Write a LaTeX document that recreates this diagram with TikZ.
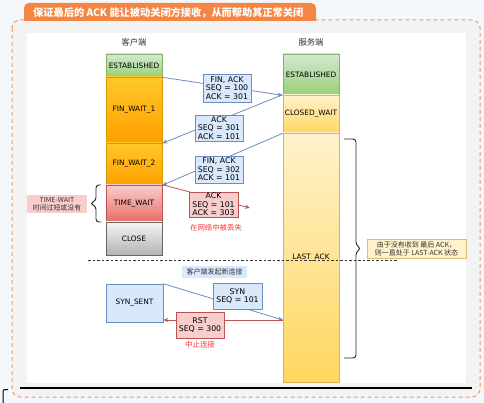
\documentclass[tikz,border=0pt]{standalone}
\usepackage{fontspec}
\setmainfont{DejaVu Sans}
\newfontfamily\cjk{Noto Sans CJK SC}
\usetikzlibrary{arrows.meta}
\definecolor{pagebg}{RGB}{244,247,252}
\definecolor{panelbg}{RGB}{243,243,243}
\definecolor{tabor}{RGB}{245,133,66}
\definecolor{dashor}{RGB}{247,150,95}
\definecolor{grnA}{RGB}{213,232,212}
\definecolor{grnB}{RGB}{151,208,119}
\definecolor{grnL}{RGB}{130,179,102}
\definecolor{orA}{RGB}{255,200,40}
\definecolor{orB}{RGB}{255,160,0}
\definecolor{orL}{RGB}{215,155,0}
\definecolor{yeA}{RGB}{255,242,204}
\definecolor{yeB}{RGB}{255,214,95}
\definecolor{yeL}{RGB}{214,182,86}
\definecolor{rdA}{RGB}{248,206,204}
\definecolor{rdB}{RGB}{234,107,102}
\definecolor{rdL}{RGB}{184,84,80}
\definecolor{grA}{RGB}{245,245,245}
\definecolor{grB}{RGB}{179,179,179}
\definecolor{grL}{RGB}{102,102,102}
\definecolor{blA}{RGB}{218,232,252}
\definecolor{blL}{RGB}{108,142,191}
\definecolor{lostred}{RGB}{255,51,51}
\definecolor{notebg}{RGB}{255,242,204}
\definecolor{noteln}{RGB}{214,190,120}
\begin{document}
\begin{tikzpicture}[x=1pt,y=-1pt,
  st/.style={draw, line width=0.6pt, minimum width=56pt, inner sep=0pt,
    font=\fontsize{7.4}{8}\selectfont},
  msgb/.style={draw=blL, fill=blA, line width=0.6pt, align=center, inner sep=0pt,
    minimum width=48pt, font=\fontsize{7.8}{8.4}\selectfont},
  msgr/.style={draw=rdL, fill=rdA, line width=0.6pt, align=center, inner sep=0pt,
    minimum width=48pt, font=\fontsize{7.8}{8.4}\selectfont},
  barrow/.style={draw=blL, line width=0.8pt, -{Stealth[length=5pt,width=4pt]}},
  rarrow/.style={draw=rdL, line width=0.8pt, -{Stealth[length=5pt,width=4pt]}},
  cjktxt/.style={font=\cjk\fontsize{7.4}{8.5}\selectfont, align=center, inner sep=0pt},
  bracepath/.style={draw=black!85, line width=0.9pt, rounded corners=3pt}
]
\useasboundingbox[fill=pagebg] (0,0) rectangle (484,403);
% panel
\fill[panelbg] (13,21) [rounded corners=7pt] -- (13,396) -- (479,396) -- (479,21) [sharp corners] -- cycle;
\fill[white] (27,33) rectangle (466,383);
\draw[dashor, line width=1pt, dash pattern=on 4pt off 3pt, rounded corners=8pt] (12,20) rectangle (480,397);
% tab
\fill[tabor] (24,21) [rounded corners=5pt] -- (24,3) -- (316,3) [sharp corners] -- (316,21) -- cycle;
\node[font=\cjk\bfseries\fontsize{10.2}{11}\selectfont, text=white, anchor=west, inner sep=0pt] (title) at (33,12.5) {保证最后的 ACK 能让被动关闭方接收，从而帮助其正常关闭};
% bottom line
\draw[black, line width=1.4pt] (20,388) -- (472,388);
\draw[black, line width=1pt, rounded corners=2pt] (8,389.5) -- (3,389.5) -- (3,403);
% headers
\node[font=\cjk\fontsize{8.3}{9}\selectfont, text=black!80] (hc) at (134,42) {客户端};
\node[font=\cjk\fontsize{8.3}{9}\selectfont, text=black!80] (hs) at (311,42) {服务端};
% client states
\node[st, minimum height=23pt, top color=grnA, bottom color=grnB, draw=grnL] (cest) at (134,65.5) {ESTABLISHED};
\node[st, minimum height=66pt, top color=orA, bottom color=orB, draw=orL] (fw1) at (134,110) {FIN\_WAIT\_1};
\node[st, minimum height=42pt, top color=orA, bottom color=orB, draw=orL] (fw2) at (134,164) {FIN\_WAIT\_2};
\node[st, minimum height=37pt, top color=rdA, bottom color=rdB, draw=rdL] (tw) at (134,203.5) {TIME\_WAIT};
\node[st, minimum height=33pt, top color=grA, bottom color=grB, draw=grL] (cl) at (134,238.5) {CLOSE};
% server states
\node[st, minimum height=41pt, top color=grnA, bottom color=grnB, draw=grnL] (sest) at (311,74.5) {ESTABLISHED};
\node[st, minimum height=38pt, top color=yeA, bottom color=yeB, draw=yeL] (cw) at (311,114) {CLOSED\_WAIT};
\node[st, minimum height=249pt, top color=yeA, bottom color=yeB, draw=yeL] (la) at (311,257.5) {LAST\_ACK};
% dashed separator
\draw[black!80, line width=0.8pt, dash pattern=on 2.5pt off 2pt] (88,260) -- (398,260);
% new connection
\node[st, minimum height=38pt, minimum width=57pt, fill=blA, draw=blL] (ss) at (134.5,303) {SYN\_SENT};
\coordinate (lahit) at (283,320);
\coordinate (lost) at (250,208);
% connectors
\draw[barrow] (cest.south east) -- (sest.south west);
\draw[barrow] (cw.north west) -- (fw1.south east);
\draw[barrow] (cw.south west) -- (fw2.south east);
\draw[rarrow] (tw.north east) -- (lost);
\draw[barrow] (ss.north east) -- (lahit);
\draw[rarrow] (lahit) -- (lahit -| ss.east);
% message boxes
\node[msgb, minimum height=28pt] (m1) at (227,88) {FIN, ACK\\SEQ = 100\\ACK = 301};
\node[msgb, minimum height=26pt] (m2) at (219,128) {ACK\\SEQ = 301\\ACK = 101};
\node[msgb, minimum height=27pt] (m3) at (219,169.5) {FIN, ACK\\SEQ = 302\\ACK = 101};
\node[msgr, minimum height=25pt, minimum width=49pt] (m4) at (213.5,204.5) {ACK\\SEQ = 101\\ACK = 303};
\node[msgb, minimum height=26pt, minimum width=49pt] (m5) at (237.5,296) {SYN\\SEQ = 101};
\node[msgr, minimum height=26pt] (m6) at (200,325) {RST\\SEQ = 300};
% red labels
\node[cjktxt, text=lostred] (lostlbl) at (216,228) {在网络中被丢失};
\node[cjktxt, text=lostred] (abortlbl) at (200,345) {中止连接};
% new connection label
\node[cjktxt, fill=blA, minimum width=65pt, minimum height=12pt, text=black!80, font=\cjk\fontsize{7}{8}\selectfont] (newc) at (214.5,272) {客户端发起新连接};
% time-wait note
\node[cjktxt, fill=rdA, minimum width=60pt, minimum height=18pt, text=black!80, font=\cjk\fontsize{6.9}{8}\selectfont] (twnote) at (57,204) {TIME-WAIT\\时间过短或没有};
\draw[bracepath] (101,185) -- (96,185) -- (96,200.5) -- (90,203.5) -- (96,206.5) -- (96,222) -- (101,222);
% last-ack note
\draw[bracepath] (344,139) -- (356,139) -- (356,245) -- (361,248.5) -- (356,252) -- (356,358) -- (344,358);
\node[cjktxt, fill=notebg, draw=noteln, line width=0.5pt, minimum width=99pt, minimum height=19pt, text=black!80, font=\cjk\fontsize{7}{8}\selectfont] (lanote) at (416.5,248.5) {由于没有收到 最后 ACK，\\则一直处于 LAST-ACK 状态};
\end{tikzpicture}
\end{document}
